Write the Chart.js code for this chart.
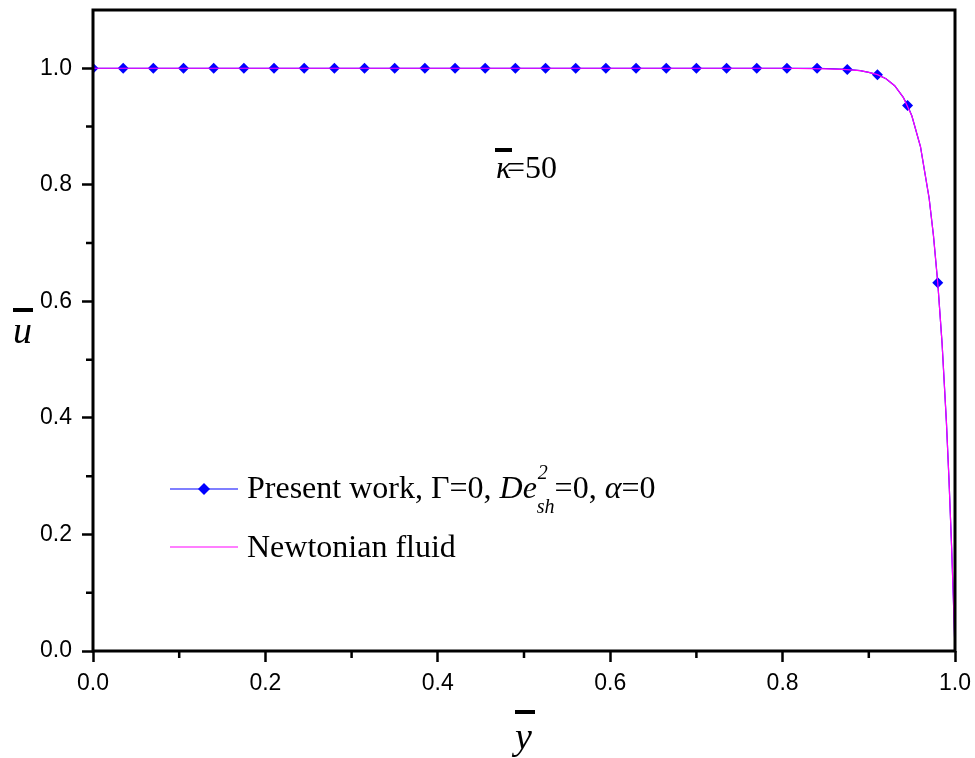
<!DOCTYPE html>
<html>
<head>
<meta charset="utf-8">
<script src="https://cdn.jsdelivr.net/npm/chart.js@4/dist/chart.umd.min.js"></script>
<style>
    html, body { margin: 0; padding: 0; background: #fff; }
    #wrap { width: 975px; height: 758px; position: relative; }
</style>
</head>
<body>
<div id="wrap"><canvas id="chart1"></canvas></div>
<script>

// present work: computed profile, markers on every 0.035 step
var presentY = [0, 0.035, 0.07, 0.105, 0.14, 0.175, 0.21, 0.245, 0.28, 0.315,
                0.35, 0.385, 0.42, 0.455, 0.49, 0.525, 0.56, 0.595, 0.63, 0.665,
                0.7, 0.735, 0.77, 0.805, 0.84, 0.86, 0.875, 0.89, 0.9, 0.91, 0.92, 0.93,
                0.94, 0.945, 0.95, 0.96, 0.97, 0.975, 0.98, 0.985, 0.99, 0.993,
                0.996, 0.998, 1.0];
var presentU = [1, 1, 1, 1, 1, 1, 1, 1, 1, 1,
                1, 1, 1, 1, 1, 1, 1, 1, 1, 1,
                1, 1, 1, 1, 1, 0.999, 0.998, 0.996, 0.993, 0.989, 0.982, 0.970,
                0.950, 0.936, 0.918, 0.865, 0.777, 0.713, 0.632, 0.528, 0.394, 0.295,
                0.181, 0.095, 0];
var presentMarkers = [0, 0.035, 0.07, 0.105, 0.14, 0.175, 0.21, 0.245, 0.28, 0.315,
                      0.35, 0.385, 0.42, 0.455, 0.49, 0.525, 0.56, 0.595, 0.63, 0.665,
                      0.7, 0.735, 0.77, 0.805, 0.84, 0.875, 0.91, 0.945, 0.98];

// newtonian fluid profile
var newtonY = [0, 0.1, 0.2, 0.3, 0.4, 0.5, 0.6, 0.7, 0.8, 0.85, 0.87, 0.89, 0.9,
               0.91, 0.92, 0.93, 0.94, 0.95, 0.96, 0.97, 0.975, 0.98, 0.985,
               0.99, 0.993, 0.996, 0.998, 1.0];
var newtonU = [1, 1, 1, 1, 1, 1, 1, 1, 1, 0.999, 0.998, 0.996, 0.993,
               0.989, 0.982, 0.970, 0.950, 0.918, 0.865, 0.777, 0.713, 0.632, 0.528,
               0.394, 0.295, 0.181, 0.095, 0];

var xMajorTicks = [0, 0.2, 0.4, 0.6, 0.8, 1.0];
var xMinorTicks = [0.1, 0.3, 0.5, 0.7, 0.9];
var yMajorTicks = [0, 0.2, 0.4, 0.6, 0.8, 1.0];
var yMinorTicks = [0.1, 0.3, 0.5, 0.7, 0.9];

var SANS = '"Liberation Sans", Arial, sans-serif';
var SERIF = '"Liberation Serif", "Times New Roman", serif';

function toPoints(xs, ys) {
    return xs.map(function(x, i) { return { x: x, y: ys[i] }; });
}

/*  frame, minor ticks, titles and the legend  */
var decorPlugin = {
    id: 'decor',
    afterDraw: function(chart) {
        var ctx = chart.ctx;
        var a = chart.chartArea;
        var sx = chart.scales.x, sy = chart.scales.y;

        ctx.save();
        ctx.strokeStyle = '#000';
        ctx.lineWidth = 2.5;
        ctx.beginPath();
        xMinorTicks.forEach(function(v) {
            var px = sx.getPixelForValue(v);
            ctx.moveTo(px, a.bottom); ctx.lineTo(px, a.bottom + 7);
        });
        yMinorTicks.forEach(function(v) {
            var py = sy.getPixelForValue(v);
            ctx.moveTo(a.left, py); ctx.lineTo(a.left - 7, py);
        });
        ctx.stroke();

        ctx.lineWidth = 3;
        ctx.strokeRect(a.left, a.top, a.right - a.left, a.bottom - a.top);

        ctx.fillStyle = '#000';
        ctx.textBaseline = 'alphabetic';
        ctx.textAlign = 'left';

        // axis titles with overbars
        ctx.font = 'italic 38px ' + SERIF;
        ctx.fillText('u', 13, 343);
        ctx.fillRect(13, 308, 20, 4);
        ctx.fillText('y', 515, 749);
        ctx.fillRect(515, 710, 20, 4);

        // kappa annotation
        ctx.font = 'italic 32px ' + SERIF;
        ctx.fillText('\u03BA', 496, 178);
        ctx.fillRect(495, 148, 17, 4);
        ctx.font = '32px ' + SERIF;
        ctx.fillText('=50', 507, 178);

        // legend
        var ds0 = chart.data.datasets[1];
        var ds1 = chart.data.datasets[0];
        ctx.lineWidth = 1.2;
        ctx.strokeStyle = ds0.borderColor;
        ctx.beginPath(); ctx.moveTo(170, 489); ctx.lineTo(238, 489); ctx.stroke();
        ctx.fillStyle = ds0.pointBackgroundColor;
        ctx.beginPath();
        ctx.moveTo(204, 483); ctx.lineTo(210, 489); ctx.lineTo(204, 495); ctx.lineTo(198, 489);
        ctx.closePath(); ctx.fill();
        ctx.strokeStyle = ds1.borderColor;
        ctx.beginPath(); ctx.moveTo(170, 547); ctx.lineTo(238, 547); ctx.stroke();

        ctx.fillStyle = '#000';
        var x = 247, base = 498;
        function put(txt, font, dy) {
            ctx.font = font;
            ctx.fillText(txt, x, base + (dy || 0));
            x += ctx.measureText(txt).width;
        }
        put('Present work, \u0393=0, ', '32px ' + SERIF);
        put('De', 'italic 32px ' + SERIF);
        ctx.font = 'italic 20px ' + SERIF;
        ctx.fillText('2', x + 1, base - 19);
        put('sh', 'italic 20px ' + SERIF, 15);
        put('=0, ', '32px ' + SERIF);
        put('\u03B1', 'italic 32px ' + SERIF);
        put('=0', '32px ' + SERIF);

        ctx.font = '32px ' + SERIF;
        ctx.fillText('Newtonian fluid', 247, 557);
        ctx.restore();
    }
};

var ctx = document.getElementById('chart1');
var myChart = new Chart(ctx, {
    type: 'scatter',
    data: {
        datasets: [{
            label: 'Newtonian fluid',
            data: toPoints(newtonY, newtonU),
            showLine: true,
            borderColor: '#ff00ff',
            borderWidth: 1.2,
            pointRadius: 0,
            tension: 0,
            order: 0
        }, {
            label: 'Present work',
            data: toPoints(presentY, presentU),
            showLine: true,
            borderColor: '#0000ff',
            borderWidth: 1.2,
            pointStyle: 'rectRot',
            pointRadius: presentY.map(function(v) { return presentMarkers.indexOf(v) >= 0 ? 5.5 : 0; }),
            pointBackgroundColor: '#0000ff',
            pointBorderColor: '#0000ff',
            pointBorderWidth: 0,
            tension: 0,
            order: 1
        }]
    },
    options: {
        responsive: true,
        maintainAspectRatio: false,
        animation: false,
        events: [],
        layout: { padding: { top: 10, right: 20, left: 0, bottom: 0 } },
        plugins: {
            legend: { display: false },
            tooltip: { enabled: false }
        },
        scales: {
            x: {
                type: 'linear',
                min: 0,
                max: 1.0,
                afterBuildTicks: function(scale) {
                    scale.ticks = xMajorTicks.map(function(v) { return { value: v }; });
                },
                afterFit: function(scale) {
                    scale.height = 107;
                    scale.paddingLeft = 0;
                    scale.paddingRight = 0;
                },
                grid: { drawOnChartArea: false, drawTicks: true, tickLength: 11, tickWidth: 2.5, tickColor: '#000' },
                border: { display: false },
                ticks: {
                    padding: 8,
                    color: '#000',
                    font: { family: SANS, size: 23 },
                    maxRotation: 0,
                    callback: function(v) { return v.toFixed(1); }
                }
            },
            y: {
                type: 'linear',
                min: 0,
                max: 1.1,
                afterBuildTicks: function(scale) {
                    scale.ticks = yMajorTicks.map(function(v) { return { value: v }; });
                },
                afterFit: function(scale) {
                    scale.width = 93;
                    scale.paddingTop = 0;
                    scale.paddingBottom = 0;
                },
                grid: { drawOnChartArea: false, drawTicks: true, tickLength: 11, tickWidth: 2.5, tickColor: '#000' },
                border: { display: false },
                ticks: {
                    padding: 10,
                    color: '#000',
                    font: { family: SANS, size: 23 },
                    callback: function(v) { return v.toFixed(1); }
                }
            }
        }
    },
    plugins: [decorPlugin]
});
</script>
</body>
</html>
